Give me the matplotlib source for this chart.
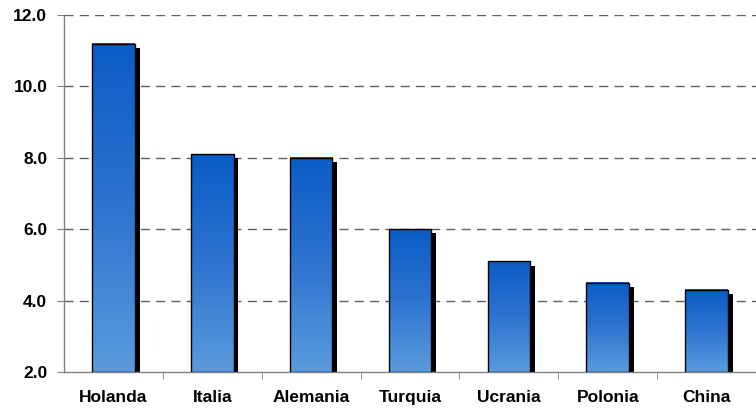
import numpy as np
import matplotlib
matplotlib.use("Agg")
import matplotlib.pyplot as plt
import matplotlib.patheffects as pe
from matplotlib.colors import LinearSegmentedColormap

# data
paises = ["Holanda", "Italia", "Alemania", "Turquia", "Ucrania", "Polonia", "China"]
valores = [11.2, 8.1, 8.0, 6.0, 5.1, 4.5, 4.3]
yticks = [2.0, 4.0, 6.0, 8.0, 10.0, 12.0]

plt.rcParams['font.family'] = ['Liberation Sans', 'DejaVu Sans']

fig = plt.figure(figsize=(7.56, 4.08), dpi=100)
ax = fig.add_axes([0.0847, 0.088, 0.9153, 0.875])

ymin, ymax = 2.0, 12.0
width = 0.43
cmap = LinearSegmentedColormap.from_list("azul", ["#0A5CC6", "#2E74D0", "#5A9BDD"])
grad = np.linspace(0, 1, 256).reshape(-1, 1)

x = np.arange(len(paises))
# shadow bars
ax.bar(x, np.array(valores) - ymin, bottom=ymin, width=width, color='k', zorder=2,
       path_effects=[pe.SimplePatchShadow(offset=(3.5, -3), shadow_rgbFace='k', alpha=1), pe.Normal()])
# gradient fill
for xi, v in zip(x, valores):
    ax.imshow(grad, extent=[xi - width / 2, xi + width / 2, ymin, v], aspect='auto',
              cmap=cmap, origin='upper', zorder=3, interpolation='bilinear')
# outline
ax.bar(x, np.array(valores) - ymin, bottom=ymin, width=width, facecolor='none',
       edgecolor='k', linewidth=1.0, zorder=4)

ax.set_xlim(-0.5, len(paises) - 0.5)
ax.set_ylim(ymin, ymax)

ax.set_yticks(yticks)
ax.set_yticklabels(["%.1f" % t for t in yticks], fontsize=12.5, fontweight='bold')
ax.set_xticks(x)
ax.set_xticklabels(paises, fontsize=12.5, fontweight='bold')
ax.set_xticks(np.arange(len(paises) - 1) + 0.5, minor=True)
ax.tick_params(axis='x', which='major', length=0, pad=13)
ax.tick_params(axis='x', which='minor', length=5, color='#808080', direction='out')
ax.tick_params(axis='y', length=5, color='#808080', direction='out', pad=7)

for t in yticks[1:]:
    ax.axhline(t, color='#606060', linewidth=1.0, linestyle=(0, (6.5, 4.5)), zorder=1)

for s in ['top', 'right']:
    ax.spines[s].set_visible(False)
for s in ['left', 'bottom']:
    ax.spines[s].set_color('#808080')
    ax.spines[s].set_linewidth(1.0)

fig.savefig("out.png", dpi=100)
